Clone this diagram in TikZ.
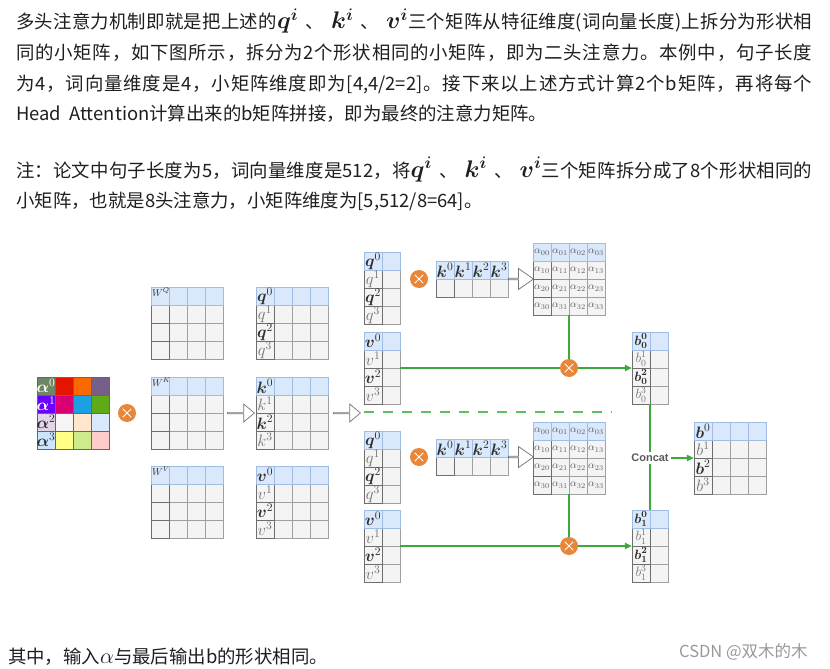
\RequirePackage{fix-cm}
\documentclass[tikz,border=0pt]{standalone}
\usepackage{amsmath}
\usepackage{fontspec}
\newfontfamily\cjk{Noto Sans CJK SC}
\newfontfamily\arialf{Liberation Sans}
\usetikzlibrary{shapes.arrows,arrows.meta}

\makeatletter
\newcommand{\jline}[1]{\hbox to 796pt{\@tfor\jx:=#1\do{\jx\hskip0pt plus 1fil}\unskip}}
\makeatother
\newcommand{\mth}[1]{{\fontsize{22}{22}\selectfont$#1$}}
\newcommand{\mthb}[1]{{\fontsize{24}{24}\selectfont$\boldsymbol{#1}$}}

\definecolor{txt}{HTML}{1F1F1F}
\definecolor{hfill}{HTML}{DAE8FC}
\definecolor{hdraw}{HTML}{9FBCE4}
\definecolor{cfill}{HTML}{F4F4F4}
\definecolor{cdraw}{HTML}{A0A0A0}
\definecolor{cdark}{HTML}{6E6E6E}
\definecolor{labdark}{HTML}{2E2E2E}
\definecolor{labgray}{HTML}{747474}
\definecolor{orng}{HTML}{E8873A}
\definecolor{grn}{HTML}{3BAA3B}
\definecolor{grnd}{HTML}{5CC05C}
\definecolor{a00}{HTML}{6D8764}\definecolor{a01}{HTML}{E51400}\definecolor{a02}{HTML}{FA6800}\definecolor{a03}{HTML}{76608A}
\definecolor{a10}{HTML}{6A00FF}\definecolor{a11}{HTML}{D80073}\definecolor{a12}{HTML}{1BA1E2}\definecolor{a13}{HTML}{60A917}
\definecolor{a20}{HTML}{E1D5E7}\definecolor{a21}{HTML}{F5F5F5}\definecolor{a22}{HTML}{FFE6CC}\definecolor{a23}{HTML}{DAE8FC}
\definecolor{a30}{HTML}{CCE5FF}\definecolor{a31}{HTML}{FFFF88}\definecolor{a32}{HTML}{CDEB8B}\definecolor{a33}{HTML}{FFCCCC}

\tikzset{
  cell/.style={fill=cfill, draw=cdraw, line width=0.8pt},
  lcell/.style={fill=cfill, draw=cdark, line width=0.8pt},
  hcell/.style={fill=hfill, draw=hdraw, line width=0.8pt},
  box/.style={inner sep=0pt, draw=none, fill=none},
  lab/.style={inner sep=0pt, font=\fontsize{16.5}{16.5}\selectfont},
  blab/.style={inner sep=0pt, font=\fontsize{13.5}{13.5}\selectfont},
  slab/.style={inner sep=0pt, text=labgray!80!black, font=\fontsize{10.5}{10.5}\selectfont},
  wlab/.style={inner sep=0.8pt, anchor=north west, text=labdark, font=\fontsize{10}{10}\selectfont},
  xc/.style={circle, fill=orng, draw=none, minimum size=18pt, inner sep=0pt},
  xline/.style={draw=white, line width=0.9pt},
  harrow/.style={single arrow, draw=black!55, fill=white, line width=0.7pt, inner sep=0pt,
    single arrow tip angle=80, single arrow head extend=4.5pt, minimum height=27pt, minimum width=18pt},
  harrowb/.style={single arrow, draw=black!55, fill=white, line width=0.7pt, inner sep=0pt,
    single arrow tip angle=70, single arrow head extend=5pt, minimum height=25pt, minimum width=21pt},
  gline/.style={draw=grn, line width=1.1pt},
  garrow/.style={draw=grn, line width=1.1pt, -{Triangle[length=7pt,width=6.5pt]}},
  dline/.style={draw=grnd, line width=1.1pt, dash pattern=on 10pt off 9pt},
  tline/.style={anchor=base west, inner sep=0pt, text=txt, font=\cjk\fontsize{18.4}{18.4}\selectfont},
  concat/.style={inner sep=2pt, fill=white, text=black!65, font=\arialf\bfseries\fontsize{11}{11}\selectfont}
}

\newcommand{\gridm}[5]{%
  \foreach \ci in {2,...,#4}{\foreach \ri in {2,...,#5}{\path[cell] ({#2+(\ci-1)*18},{#3+(\ri-1)*18}) rectangle ++(18,18);}}
  \foreach \ri in {2,...,#5}{\path[lcell] ({#2},{#3+(\ri-1)*18}) rectangle ++(18,18);}
  \foreach \ci in {1,...,#4}{\path[hcell] ({#2+(\ci-1)*18},{#3}) rectangle ++(18,18);}
  \node[box, minimum width={#4*18pt}, minimum height={#5*18pt}] (#1) at ({#2+#4*9},{#3+#5*9}) {};
}
\newcommand{\collab}[4]{%
  \foreach \ii in {0,2}{\node[lab, text=labdark] (#1-\ii) at ({#2+9},{#3+9+18*\ii}) {$\boldsymbol{#4}^{\ii}$};}
  \foreach \ii in {1,3}{\node[lab, text=labgray] (#1-\ii) at ({#2+9},{#3+9+18*\ii}) {$#4^{\ii}$};}
}
\newcommand{\sublab}[5]{%
  \foreach \ii in {0,2}{\node[blab, text=labdark] (#1-\ii) at ({#2+9},{#3+9+18*\ii}) {$\boldsymbol{#4}_{\boldsymbol{#5}}^{\boldsymbol{\ii}}$};}
  \foreach \ii in {1,3}{\node[blab, text=labgray] (#1-\ii) at ({#2+9},{#3+9+18*\ii}) {$#4_{#5}^{\ii}$};}
}
\newcommand{\scorelab}[3]{%
  \foreach \ri in {0,...,3}{\foreach \ci in {0,...,3}{
    \node[slab] (#1-\ri\ci) at ({#2+9+18*\ci},{#3+9+18*\ri}) {$\alpha_{\ri\ci}$};}}%
}
\newcommand{\xmark}[1]{%
  \draw[xline] ([shift={(-4.2,-4.2)}]#1.center) -- ([shift={(4.2,4.2)}]#1.center);
  \draw[xline] ([shift={(-4.2,4.2)}]#1.center) -- ([shift={(4.2,-4.2)}]#1.center);
}

\begin{document}
\begin{tikzpicture}[x=1pt,y=-1pt]
\fill[white] (0,0) rectangle (830,669);
\useasboundingbox (0,0) rectangle (830,669);

% ---------------- text ----------------
\node[tline] (t1) at (16,29) {\jline{多头注意力机制即就是把上述的{\mthb{q^{i}}\kern7pt}、{\kern7pt\mthb{k^{i}}\kern7pt}、{\kern7pt\mthb{v^{i}}}三个矩阵从特征维度(词向量长度)上拆分为形状相}};
\node[tline] (t2) at (16,59.5) {\jline{同的小矩阵，如下图所示，拆分为2个形状相同的小矩阵，即为二头注意力。本例中，句子长度}};
\node[tline] (t3) at (16,90.5) {\jline{为4，词向量维度是4，小矩阵维度即为{[4,4/2=2]}。接下来以上述方式计算2个b矩阵，再将每个}};
\node[tline] (t4) at (16,121) {Head\hspace{0.45em}Attention计算出来的b矩阵拼接，即为最终的注意力矩阵。};
\node[tline] (t5) at (16,177.5) {\jline{注：论文中句子长度为5，词向量维度是{512}，将{\mthb{q^{i}}\kern7pt}、{\kern7pt\mthb{k^{i}}\kern7pt}、{\kern7pt\mthb{v^{i}}}三个矩阵拆分成了8个形状相同的}};
\node[tline] (t6) at (16,207) {小矩阵，也就是8头注意力，小矩阵维度为[5,512/8=64]。};
\node[tline] (t7) at (8,663.5) {其中，输入\mth{\alpha}与最后输出b的形状相同。};
\node[anchor=base west, inner sep=0pt, text=black!40, font=\cjk\fontsize{16.5}{16.5}\selectfont] (wm) at (679,657) {CSDN @双木的木};

% ---------------- input alpha ----------------
\foreach \ri in {0,...,3}{\foreach \ci in {0,...,3}{
  \path[fill=a\ri\ci, draw=black!60, line width=0.8pt] ({37+18*\ci},{377+18*\ri}) rectangle ++(18,18);
}}
\node[box, minimum width=72pt, minimum height=72pt] (A) at (73,413) {};
\node[lab, text=white] (A-0) at (46,386) {$\boldsymbol{\alpha}^{0}$};
\node[lab, text=white] (A-1) at (46,404) {$\boldsymbol{\alpha}^{1}$};
\node[lab, text=labdark] (A-2) at (46,422) {$\boldsymbol{\alpha}^{2}$};
\node[lab, text=labdark] (A-3) at (46,440) {$\boldsymbol{\alpha}^{3}$};
\node[xc] (m0) at (127,413) {};
\xmark{m0}

% ---------------- weights ----------------
\gridm{WQ}{151}{287}{4}{4}
\gridm{WK}{151}{377}{4}{4}
\gridm{WV}{151}{466}{4}{4}
\node[wlab] (WQ-l) at (151,287) {$W^{Q}$};
\node[wlab] (WK-l) at (151,377) {$W^{K}$};
\node[wlab] (WV-l) at (151,466) {$W^{V}$};

\node[harrow] (ar1) at (240.5,413) {};

% ---------------- Q K V ----------------
\gridm{Q}{256}{287}{4}{4}
\gridm{K}{256}{377}{4}{4}
\gridm{V}{256}{466}{4}{4}
\collab{Q}{256}{287}{q}
\collab{K}{256}{377}{k}
\collab{V}{256}{466}{v}

\node[harrow] (ar2) at (346.5,413) {};

% dashed separator
\coordinate (d1) at (364,412);
\coordinate (d2) at (612,412);
\draw[dline] (d1) -- (d2);

% ---------------- head 1 ----------------
\gridm{q1}{364}{252}{2}{4}
\collab{q1}{364}{252}{q}
\node[xc] (m1) at (419,279) {};
\xmark{m1}
\gridm{k1}{436}{261}{4}{2}
\foreach \ii in {0,...,3}{\node[lab, text=labdark] (k1-\ii) at ({445+18*\ii},270) {$\boldsymbol{k}^{\ii}$};}
\node[harrowb] (ar3) at (520.5,279) {};
\gridm{S1}{533}{243}{4}{4}
\scorelab{S1}{533}{243}
\gridm{v1}{364}{332}{2}{4}
\collab{v1}{364}{332}{v}

% ---------------- head 2 ----------------
\gridm{q2}{364}{431}{2}{4}
\collab{q2}{364}{431}{q}
\node[xc] (m2) at (419,457) {};
\xmark{m2}
\gridm{k2}{436}{439}{4}{2}
\foreach \ii in {0,...,3}{\node[lab, text=labdark] (k2-\ii) at ({445+18*\ii},448) {$\boldsymbol{k}^{\ii}$};}
\node[harrowb] (ar4) at (520.5,457) {};
\gridm{S2}{533}{422}{4}{4}
\scorelab{S2}{533}{422}
\gridm{v2}{364}{510}{2}{4}
\collab{v2}{364}{510}{v}

% ---------------- outputs ----------------
\gridm{b0}{632}{332}{2}{4}
\sublab{b0}{632}{332}{b}{0}
\gridm{b1}{632}{510}{2}{4}
\sublab{b1}{632}{510}{b}{1}
\gridm{B}{694}{422}{4}{4}
\collab{B}{694}{422}{b}

% ---------------- connectors ----------------
\coordinate (m3c) at (569,368);
\coordinate (m4c) at (569,546);
\draw[garrow] (v1.east) -- (b0.west);
\draw[gline] (S1.south) -- (m3c);
\draw[garrow] (v2.east) -- (b1.west);
\draw[gline] (S2.south) -- (m4c);
\node[xc] (m3) at (m3c) {};
\xmark{m3}
\node[xc] (m4) at (m4c) {};
\xmark{m4}

\node[concat] (cc) at (650,458) {Concat};
\draw[gline] (b0.south) -- (cc.north);
\draw[gline] (cc.south) -- (b1.north);
\draw[garrow] (cc.east) -- (B.west);
\end{tikzpicture}
\end{document}
